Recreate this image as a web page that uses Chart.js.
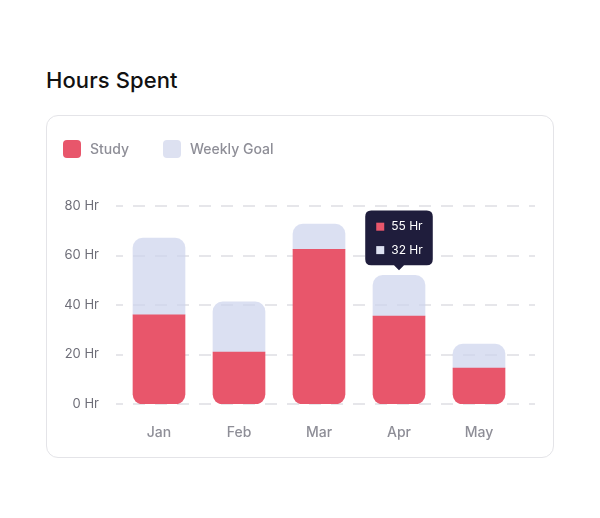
<!DOCTYPE html>
<html>
<head>
<meta charset="utf-8">
<script src="https://cdn.jsdelivr.net/npm/chart.js@4.4.1/dist/chart.umd.min.js"></script>
<style>
  html, body { margin: 0; padding: 0; background: #ffffff; }
  body { width: 600px; height: 518px; position: relative; overflow: hidden; font-family: Inter, "Noto Sans", sans-serif; }
  #title { position: absolute; left: 46px; top: 67px; font-size: 22px; font-weight: 500; color: #111111; letter-spacing: 0.1px; }
  #card { position: absolute; left: 46px; top: 115px; width: 508px; height: 343px; border: 1px solid #e4e4e8; border-radius: 12px; box-sizing: border-box; }
  #wrap { position: absolute; left: 0; top: 0; width: 600px; height: 518px; }
</style>
</head>
<body>
<div id="title">Hours Spent</div>
<div id="card"></div>
<div id="wrap"><canvas id="c" width="600" height="518"></canvas></div>
<script>
const categories = ['Jan', 'Feb', 'Mar', 'Apr', 'May'];
const studyHours = [36, 21, 62.5, 35.5, 14.5];
const goalHours = [31, 20.3, 10.2, 16.5, 9.7];
const seriesNames = ['Study', 'Weekly Goal'];
const yTicks = [0, 20, 40, 60, 80];
const tooltipIndex = 3;
const tooltipValues = [55, 32];

const RED = '#e8566b';
const LAV = 'rgba(204,211,236,0.7)';
const LAV_SOLID = '#dde1f1';
const TIP_BG = '#1f1d3c';

const dashedGrid = {
  id: 'dashedGrid',
  beforeDatasetsDraw(chart) {
    const ctx = chart.ctx;
    const ys = chart.scales.y;
    ctx.save();
    ctx.strokeStyle = '#e6e6ea';
    ctx.lineWidth = 2;
    ctx.setLineDash([12, 10]);
    ctx.lineDashOffset = 5;
    yTicks.forEach(v => {
      const y = Math.round(ys.getPixelForValue(v));
      ctx.beginPath();
      ctx.moveTo(116, y);
      ctx.lineTo(535, y);
      ctx.stroke();
    });
    ctx.restore();
  }
};

const customLegend = {
  id: 'customLegend',
  afterDraw(chart) {
    const ctx = chart.ctx;
    const pos = [63, 163];
    ctx.save();
    chart.data.datasets.forEach((ds, i) => {
      const x = pos[i];
      ctx.fillStyle = ds.legendColor;
      ctx.beginPath();
      ctx.roundRect(x, 140, 18, 18, 4);
      ctx.fill();
      ctx.fillStyle = '#8e8e97';
      ctx.font = '500 14px Inter, "Noto Sans", sans-serif';
      ctx.textBaseline = 'middle';
      ctx.textAlign = 'left';
      ctx.fillText(ds.label, x + 27, 150);
    });
    ctx.restore();
  }
};

Chart.Tooltip.positioners.stackTop = function(items) {
  if (!items.length) return false;
  let x = items[0].element.x;
  let y = Math.min(...items.map(it => it.element.y));
  return { x, y };
};

const chart = new Chart(document.getElementById('c'), {
  type: 'bar',
  data: {
    labels: categories,
    datasets: [
      {
        label: seriesNames[0],
        data: studyHours,
        backgroundColor: RED,
        hoverBackgroundColor: RED,
        legendColor: RED,
        borderWidth: 0,
        borderSkipped: false,
        borderRadius: { topLeft: 0, topRight: 0, bottomLeft: 10, bottomRight: 10 },
        barThickness: 52,
        stack: 's'
      },
      {
        label: seriesNames[1],
        data: goalHours,
        backgroundColor: LAV,
        hoverBackgroundColor: LAV,
        legendColor: LAV_SOLID,
        borderWidth: 0,
        borderSkipped: false,
        borderRadius: { topLeft: 10, topRight: 10, bottomLeft: 0, bottomRight: 0 },
        barThickness: 52,
        stack: 's'
      }
    ]
  },
  options: {
    responsive: false,
    animation: false,
    events: [],
    layout: { padding: { left: 0, right: 81, top: 206, bottom: 74 } },
    scales: {
      x: {
        stacked: true,
        grid: { display: false, drawTicks: false },
        border: { display: false },
        ticks: { color: '#8e8e97', font: { family: 'Inter, "Noto Sans", sans-serif', size: 14, weight: 500 }, padding: 20 },
        afterFit(s) { s.height = 40; }
      },
      y: {
        stacked: true,
        min: 0,
        max: 80,
        grid: { display: false, drawTicks: false },
        border: { display: false },
        ticks: {
          stepSize: 20,
          color: '#6e6e78',
          font: { family: 'Inter, "Noto Sans", sans-serif', size: 13, weight: 400 },
          padding: 20,
          callback: v => v + ' Hr'
        },
        afterFit(s) { s.width = 119; }
      }
    },
    plugins: {
      legend: { display: false },
      tooltip: {
        enabled: true,
        position: 'stackTop',
        yAlign: 'bottom',
        xAlign: 'center',
        backgroundColor: TIP_BG,
        bodyColor: '#ffffff',
        bodyFont: { family: 'Inter, "Noto Sans", sans-serif', size: 12, weight: 400 },
        bodySpacing: 9,
        padding: { left: 10, right: 10, top: 9, bottom: 8 },
        cornerRadius: 6,
        caretSize: 5,
        caretPadding: 5,
        displayColors: true,
        multiKeyBackground: TIP_BG,
        boxWidth: 10,
        boxHeight: 10,
        boxPadding: 4,
        callbacks: {
          title: () => '',
          label: (item) => tooltipValues[item.datasetIndex] + ' Hr',
          labelColor: (item) => {
            const c = item.datasetIndex === 0 ? RED : LAV_SOLID;
            return { borderColor: 'rgba(0,0,0,0)', backgroundColor: c, borderWidth: 1, borderRadius: 0 };
          }
        }
      }
    }
  },
  plugins: [dashedGrid, customLegend]
});

chart.tooltip.setActiveElements(
  [{ datasetIndex: 0, index: tooltipIndex }, { datasetIndex: 1, index: tooltipIndex }],
  { x: 399, y: 300 }
);
chart.update();
</script>
</body>
</html>
